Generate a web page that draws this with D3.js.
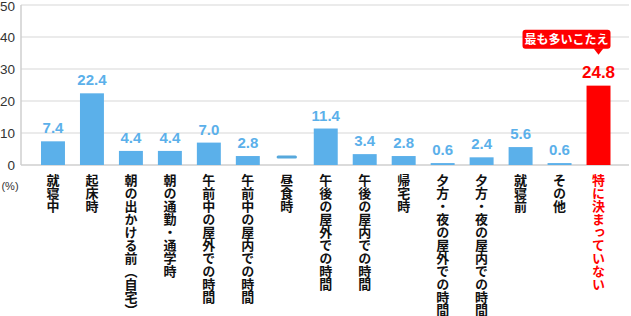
<!DOCTYPE html>
<meta charset="utf-8">
<script src="https://d3js.org/d3.v7.min.js"></script>
<style>
  body { margin: 0; background: #fff; }
  svg { display: block; }
  .jp { font-family: "Noto Sans CJK JP", sans-serif; font-weight: 700; }
</style>
<div id="dataVis"></div>
<script>
var categories = ["就寝中", "起床時", "朝の出かける前（自宅）", "朝の通勤・通学時", "午前中の屋外での時間",
  "午前中の屋内での時間", "昼食時", "午後の屋外での時間", "午後の屋内での時間", "帰宅時",
  "夕方・夜の屋外での時間", "夕方・夜の屋内での時間", "就寝前", "その他", "特に決まっていない"];
var values = [7.4, 22.4, 4.4, 4.4, 7.0, 2.8, 0, 11.4, 3.4, 2.8, 0.6, 2.4, 5.6, 0.6, 24.8];
var yTicks = [0, 10, 20, 30, 40, 50];
var highlight = "特に決まっていない";
var calloutText = "最も多いこたえ";

var W = 631, H = 316;
var blue = "#5bb0ea", red = "#ff0000";

var svg = d3.select("#dataVis").append("svg")
  .attr("width", W).attr("height", H);

var x = d3.scaleBand()
  .domain(categories)
  .range([33.5, 618])
  .paddingInner(0.385)
  .paddingOuter(0.1925);

var y = d3.scaleLinear()
  .domain([0, 50])
  .range([165, 5]);

// gridlines
svg.append("g")
  .selectAll("line")
  .data(yTicks.slice(1))
  .enter().append("line")
    .attr("x1", 21).attr("x2", 629)
    .attr("y1", d => y(d)).attr("y2", d => y(d))
    .attr("stroke", "#e4e4e4")
    .attr("stroke-width", 1.5);

// y axis labels
svg.append("g")
  .selectAll("text")
  .data(yTicks)
  .enter().append("text")
    .attr("x", 15)
    .attr("y", d => Math.max(y(d) + 5, 11))
    .attr("text-anchor", "end")
    .attr("font-family", "Liberation Sans, Arial, sans-serif")
    .attr("font-size", 13.5)
    .attr("fill", "#333")
    .text(d => d);

svg.append("text")
  .attr("x", 10).attr("y", 190)
  .attr("text-anchor", "middle")
  .attr("font-family", "Liberation Sans, Arial, sans-serif")
  .attr("font-size", 11)
  .attr("fill", "#333")
  .text("(%)");

// axis lines
svg.append("line")
  .attr("x1", 21).attr("x2", 21).attr("y1", y(50)).attr("y2", y(0))
  .attr("stroke", "#cfcfcf").attr("stroke-width", 1.5);
svg.append("line")
  .attr("x1", 21).attr("x2", 629).attr("y1", y(0)).attr("y2", y(0))
  .attr("stroke", "#cfcfcf").attr("stroke-width", 1.5);

var data = categories.map((c, i) => ({ cat: c, value: values[i] }));
var colorOf = d => d.cat === highlight ? red : blue;

// bars
svg.append("g")
  .selectAll("rect")
  .data(data.filter(d => d.value > 0))
  .enter().append("rect")
    .attr("x", d => x(d.cat))
    .attr("y", d => y(d.value))
    .attr("width", x.bandwidth())
    .attr("height", d => y(0) - y(d.value))
    .attr("fill", colorOf);

// dash for empty value
svg.append("g")
  .selectAll("rect")
  .data(data.filter(d => d.value === 0))
  .enter().append("rect")
    .attr("x", d => x(d.cat) + x.bandwidth() * 0.075)
    .attr("y", y(0) - 9.5)
    .attr("width", x.bandwidth() * 0.85)
    .attr("height", 3)
    .attr("rx", 1.5)
    .attr("fill", "#56a8dc");

// value labels
svg.append("g")
  .selectAll("text")
  .data(data.filter(d => d.value > 0))
  .enter().append("text")
    .attr("x", d => x(d.cat) + x.bandwidth() / 2)
    .attr("y", d => y(d.value) - 8)
    .attr("text-anchor", "middle")
    .attr("font-family", "Liberation Sans, Arial, sans-serif")
    .attr("font-weight", 700)
    .attr("font-size", d => d.cat === highlight ? 17 : 15)
    .attr("fill", colorOf)
    .text(d => d.value.toFixed(1));

// category labels (vertical)
svg.append("g")
  .selectAll("text")
  .data(data)
  .enter().append("text")
    .attr("class", "jp")
    .attr("x", d => x(d.cat) + x.bandwidth() / 2)
    .attr("y", 174)
    .style("writing-mode", "vertical-rl")
    .attr("font-size", 13)
    .attr("fill", d => d.cat === highlight ? red : "#111")
    .text(d => d.cat);

// callout
var hx = x(highlight) + x.bandwidth() / 2;
var tipY = y(values[categories.indexOf(highlight)]) - 31;
var callout = svg.append("g");
callout.append("rect")
  .attr("x", hx - 76).attr("y", tipY - 25)
  .attr("width", 88).attr("height", 19)
  .attr("rx", 3)
  .attr("fill", red);
callout.append("path")
  .attr("d", `M${hx - 5},${tipY - 6.5} L${hx + 5},${tipY - 6.5} L${hx},${tipY}Z`)
  .attr("fill", red);
callout.append("text")
  .attr("class", "jp")
  .attr("x", hx - 32).attr("y", tipY - 11)
  .attr("text-anchor", "middle")
  .attr("font-size", 12)
  .attr("fill", "#fff")
  .text(calloutText);
</script>
